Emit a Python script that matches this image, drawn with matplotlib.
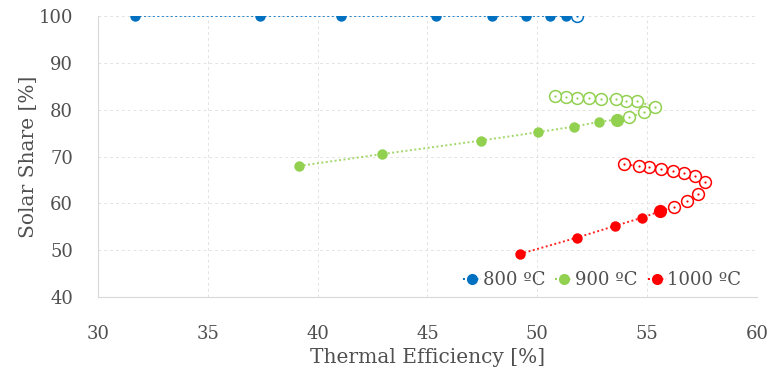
import matplotlib
matplotlib.use("Agg")
import matplotlib.pyplot as plt
from matplotlib.lines import Line2D

# 800 ºC (last point open)
eff_800 = [31.68, 37.37, 41.06, 45.38, 47.93, 49.48, 50.57, 51.30, 51.80]
sol_800 = [100, 100, 100, 100, 100, 100, 100, 100, 100]
open_800 = [False] * 8 + [True]
big_800 = [False] * 9

# 900 ºC
eff_900 = [39.16, 42.91, 47.43, 50.04, 51.68, 52.82, 53.62,
           54.17, 54.88, 55.37, 54.52, 54.06, 53.59, 52.90, 52.36, 51.83, 51.30, 50.81]
sol_900 = [68.0, 70.5, 73.4, 75.2, 76.4, 77.4, 77.9,
           78.4, 79.4, 80.6, 81.8, 81.9, 82.3, 82.3, 82.5, 82.6, 82.7, 83.0]
open_900 = [False] * 7 + [True] * 11
big_900 = [False] * 6 + [True] + [False] * 11

# 1000 ºC
eff_1000 = [49.21, 51.83, 53.55, 54.75, 55.59,
            56.22, 56.82, 57.30, 57.64, 57.16, 56.69, 56.19, 55.64, 55.09, 54.62, 53.94]
sol_1000 = [49.2, 52.7, 55.2, 56.9, 58.3,
            59.2, 60.6, 62.0, 64.5, 65.9, 66.4, 66.8, 67.4, 67.8, 68.0, 68.3]
open_1000 = [False] * 5 + [True] * 11
big_1000 = [False] * 4 + [True] + [False] * 11

series = [
    ("800 ºC", eff_800, sol_800, open_800, big_800, "#0070C0"),
    ("900 ºC", eff_900, sol_900, open_900, big_900, "#92D050"),
    ("1000 ºC", eff_1000, sol_1000, open_1000, big_1000, "#FF0000"),
]

FONT = "DejaVu Serif"
TXT = "#505050"
DOT = (0, (1, 1.3))

fig = plt.figure(figsize=(7.70, 3.76), dpi=100)
ax = fig.add_axes([0.1273, 0.2101, 0.8557, 0.7473])

handles = []
for label, xs, ys, opn, big, col in series:
    ax.plot(xs, ys, linestyle=DOT, color=col, lw=1.4, alpha=0.85, zorder=2)
    for x, y, o, b in zip(xs, ys, opn, big):
        if o:
            ax.plot(x, y, marker="o", ms=8.5, mfc="white", mec=col, mew=1.1, zorder=3)
            ax.plot(x, y, marker="o", ms=1.6, mfc=col, mec=col, mew=0, zorder=4)
        else:
            ax.plot(x, y, marker="o", ms=9.5 if b else 7.5, color=col, mew=0, zorder=3)
    handles.append(Line2D([], [], color=col, linestyle=DOT, lw=1.4,
                          marker="o", ms=8, mew=0, label=label))

ax.set_xlim(30, 60)
ax.set_ylim(40, 100)
ax.set_xticks(range(30, 61, 5))
ax.set_yticks(range(40, 101, 10))
ax.grid(True, color="#E3E3E3", linestyle=(0, (3, 3)), lw=0.7)
ax.set_axisbelow(True)
for s in ["top", "right"]:
    ax.spines[s].set_visible(False)
for s in ["left", "bottom"]:
    ax.spines[s].set_color("#D9D9D9")
ax.tick_params(axis="y", length=0, labelsize=13, labelcolor=TXT, pad=18)
ax.tick_params(axis="x", length=0, labelsize=13, labelcolor=TXT, pad=20)
for lab in ax.get_xticklabels() + ax.get_yticklabels():
    lab.set_family(FONT)

ax.set_xlabel("Thermal Efficiency [%]", fontsize=14.5, color=TXT, family=FONT)
ax.set_ylabel("Solar Share [%]", fontsize=14.5, color=TXT, family=FONT)
ax.xaxis.set_label_coords(0.5, -0.215, transform=ax.transAxes)
ax.yaxis.set_label_coords(-0.106, 0.5, transform=ax.transAxes)
ax.xaxis.label.set_va("center")
ax.yaxis.label.set_va("center")

leg = ax.legend(handles=handles, loc="lower right", ncol=3, frameon=False,
                prop={"family": FONT, "size": 13}, labelcolor=TXT,
                handlelength=1.0, handletextpad=0.1, columnspacing=0.55,
                bbox_to_anchor=(0.993, -0.01), borderaxespad=0.2)

fig.savefig("out.png", dpi=100)
